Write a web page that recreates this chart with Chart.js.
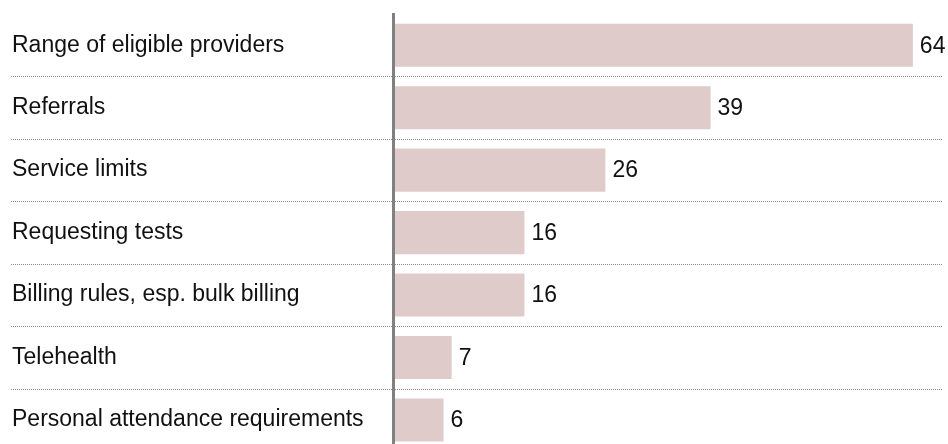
<!DOCTYPE html>
<html>
<head>
<meta charset="utf-8">
<script src="https://cdn.jsdelivr.net/npm/chart.js@4/dist/chart.umd.min.js"></script>
<style>
  html, body { margin: 0; padding: 0; background: #fff; overflow: hidden; }
  #wrap { width: 948px; height: 465px; }
</style>
</head>
<body>
<div id="wrap"><canvas id="myChart"></canvas></div>
<script>
var categories = ['Range of eligible providers', 'Referrals', 'Service limits', 'Requesting tests',
    'Billing rules, esp. bulk billing', 'Telehealth', 'Personal attendance requirements'];
var counts = [64, 39, 26, 16, 16, 7, 6];

var fontFamily = 'Arial, "Liberation Sans", sans-serif';

// dotted separators between rows, running under the labels too
var separators = {
    id: 'separators',
    beforeDatasetsDraw: function (chart) {
        var ctx = chart.ctx;
        var y = chart.scales.y;
        ctx.save();
        ctx.strokeStyle = '#8a8a8a';
        ctx.lineWidth = 1;
        ctx.setLineDash([1, 1]);
        for (var i = 0; i < categories.length - 1; i++) {
            var yy = Math.round((y.getPixelForValue(i) + y.getPixelForValue(i + 1)) / 2) + 0.5;
            ctx.beginPath();
            ctx.moveTo(11, yy);
            ctx.lineTo(chart.chartArea.right, yy);
            ctx.stroke();
        }
        ctx.restore();
    }
};

// thick grey baseline just left of the bars, plus value labels
var valueLabels = {
    id: 'valueLabels',
    afterDatasetsDraw: function (chart) {
        var ctx = chart.ctx;
        var area = chart.chartArea;
        var meta = chart.getDatasetMeta(0);
        ctx.save();
        ctx.fillStyle = '#808080';
        ctx.fillRect(area.left - 3, area.top - 1, 3, chart.height - area.top + 1);
        ctx.fillStyle = '#111';
        ctx.font = '23px ' + fontFamily;
        ctx.textBaseline = 'middle';
        meta.data.forEach(function (bar, i) {
            ctx.fillText(counts[i], bar.x + 7, bar.y + 1);
        });
        ctx.restore();
    }
};

function setChart() {
    const ctx = document.getElementById('myChart');
    new Chart(ctx, {
        type: 'bar',
        data: {
            labels: categories,
            datasets: [{
                data: counts,
                backgroundColor: '#dfcbca',
                borderWidth: 0,
                barPercentage: 0.69,
                categoryPercentage: 1
            }]
        },
        options: {
            indexAxis: 'y',
            responsive: true,
            maintainAspectRatio: false,
            animation: false,
            layout: { padding: { left: 12, right: 6, top: 14, bottom: 0 } },
            plugins: { legend: { display: false }, tooltip: { enabled: false } },
            scales: {
                x: {
                    display: false,
                    min: 0,
                    max: 67.6
                },
                y: {
                    afterFit: function (scale) { scale.width = 383; },
                    grid: { display: false, drawTicks: false },
                    border: { display: false },
                    ticks: {
                        crossAlign: 'far',
                        padding: 0,
                        color: '#111',
                        font: { family: fontFamily, size: 23 }
                    }
                }
            }
        },
        plugins: [separators, valueLabels]
    });
}
setChart();
</script>
</body>
</html>
